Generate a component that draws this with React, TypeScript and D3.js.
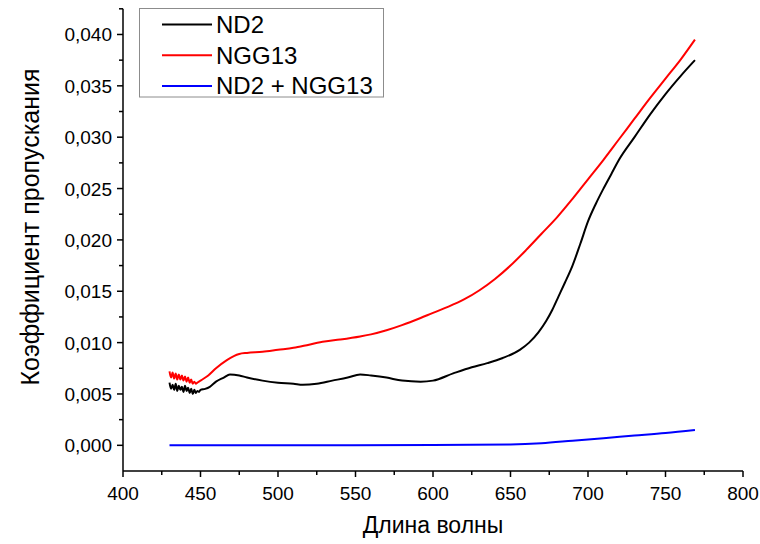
import React from "react";
import * as d3 from "d3";

const ND2_X = [430, 431, 432, 433, 434, 435, 436, 437, 438, 439, 440, 441, 442, 443, 444, 445, 446, 447, 448, 449, 450, 453, 456, 460, 465, 469, 475, 480, 490, 500, 510, 516, 525, 535, 545, 553, 560, 570, 580, 592, 600, 613, 625, 635, 645, 656, 662, 668, 673, 677, 681, 685, 690, 695, 700, 705, 710, 715, 720, 730, 740, 750, 760, 769];
const ND2_Y = [0.0061, 0.0055, 0.0059, 0.0054, 0.0060, 0.0053, 0.0058, 0.0054, 0.0057, 0.0052, 0.0058, 0.0053, 0.0056, 0.0051, 0.0055, 0.0050, 0.0054, 0.0051, 0.0053, 0.0052, 0.0054, 0.0055, 0.0057, 0.0062, 0.0066, 0.0069, 0.0068, 0.0066, 0.0063, 0.0061, 0.0060, 0.0059, 0.0060, 0.0063, 0.0066, 0.0069, 0.0068, 0.0066, 0.0063, 0.0062, 0.0063, 0.0070, 0.0076, 0.0080, 0.0085, 0.0093, 0.0100, 0.0110, 0.0121, 0.0132, 0.0145, 0.0158, 0.0175, 0.0196, 0.0218, 0.0235, 0.0250, 0.0264, 0.0278, 0.0300, 0.0322, 0.0342, 0.0360, 0.0375];

const NGG_X = [430, 431, 432, 433, 434, 435, 436, 437, 438, 439, 440, 441, 442, 443, 444, 445, 446, 447, 448, 449, 450, 455, 460, 467, 475, 480, 490, 500, 510, 520, 530, 540, 553, 560, 570, 580, 592, 600, 610, 620, 630, 640, 650, 660, 670, 680, 690, 700, 710, 720, 730, 740, 750, 760, 769];
const NGG_Y = [0.0072, 0.0066, 0.0071, 0.0065, 0.0070, 0.0064, 0.0069, 0.0064, 0.0068, 0.0063, 0.0067, 0.0062, 0.0066, 0.0061, 0.0064, 0.0060, 0.0062, 0.0060, 0.0061, 0.0062, 0.0063, 0.0068, 0.0075, 0.0083, 0.0089, 0.0090, 0.0091, 0.0093, 0.0095, 0.0098, 0.0101, 0.0103, 0.0106, 0.0108, 0.0112, 0.0117, 0.0124, 0.0129, 0.0135, 0.0142, 0.0151, 0.0162, 0.0175, 0.0190, 0.0206, 0.0222, 0.0240, 0.0259, 0.0278, 0.0298, 0.0318, 0.0338, 0.0357, 0.0376, 0.0395];

const MIX_X = [430, 500, 600, 650, 670, 690, 710, 730, 750, 769];
const MIX_Y = [0, 0.00001, 0.00003, 0.00008, 0.0002, 0.00045, 0.0007, 0.00095, 0.0012, 0.0015];

const X_TICKS = [400, 450, 500, 550, 600, 650, 700, 750, 800];
const Y_TICKS = [0, 0.005, 0.01, 0.015, 0.02, 0.025, 0.03, 0.035, 0.04];

const SERIES = [
  { name: "ND2", xs: ND2_X, ys: ND2_Y, color: "#000000" },
  { name: "NGG13", xs: NGG_X, ys: NGG_Y, color: "#ff0000" },
  { name: "ND2 + NGG13", xs: MIX_X, ys: MIX_Y, color: "#0000ff" },
];

const FONT = "'Liberation Sans', Arial, sans-serif";

export default function App() {
  const x = d3.scaleLinear().domain([400, 800]).range([123, 743]);
  const y = d3.scaleLinear().domain([-0.0025, 0.0425]).range([471, 8.8]);
  const line = d3
    .line<[number, number]>()
    .x((d) => x(d[0]))
    .y((d) => y(d[1]))
    .curve(d3.curveMonotoneX);

  const xMinor = d3.range(425, 800, 50);
  const yMinor = d3.range(0.0025, 0.043, 0.005);
  const fmt = (v: number) => v.toFixed(3).replace(".", ",");

  return (
    <svg
      width={760}
      height={544}
      style={{ position: "absolute", left: 0, top: 0, background: "#fff" }}
      fontFamily={FONT}
    >
      <rect width={760} height={544} fill="#fff" />
      {SERIES.map((s) => (
        <path
          key={s.name}
          d={line(s.xs.map((v, i) => [v, s.ys[i]] as [number, number])) || ""}
          fill="none"
          stroke={s.color}
          strokeWidth={2}
          strokeLinejoin="round"
        />
      ))}
      {/* axes */}
      <line x1={x(400)} x2={x(800)} y1={471} y2={471} stroke="#000" strokeWidth={1.5} />
      <line x1={123} x2={123} y1={y(-0.0025)} y2={y(0.0425)} stroke="#000" strokeWidth={1.5} />
      {X_TICKS.map((t) => (
        <g key={"xt" + t}>
          <line x1={x(t)} x2={x(t)} y1={471} y2={477} stroke="#000" strokeWidth={1.5} />
          <text x={x(t)} y={500} textAnchor="middle" fontSize={19}>
            {t}
          </text>
        </g>
      ))}
      {xMinor.map((t) => (
        <line key={"xm" + t} x1={x(t)} x2={x(t)} y1={471} y2={475} stroke="#000" strokeWidth={1.5} />
      ))}
      {Y_TICKS.map((t) => (
        <g key={"yt" + t}>
          <line x1={117} x2={123} y1={y(t)} y2={y(t)} stroke="#000" strokeWidth={1.5} />
          <text x={112} y={y(t) + 7} textAnchor="end" fontSize={19}>
            {fmt(t)}
          </text>
        </g>
      ))}
      {yMinor.map((t) => (
        <line key={"ym" + t} x1={119} x2={123} y1={y(t)} y2={y(t)} stroke="#000" strokeWidth={1.5} />
      ))}
      <text x={433} y={533} textAnchor="middle" fontSize={23}>
        Длина волны
      </text>
      <text
        transform={`translate(39, 227) rotate(-90)`}
        textAnchor="middle"
        fontSize={25}
      >
        Коэффициент пропускания
      </text>
      {/* legend */}
      <rect x={139.5} y={8.5} width={244} height={88.5} fill="#fff" stroke="#8c8c8c" strokeWidth={1} />
      {SERIES.map((s, i) => (
        <g key={"lg" + s.name}>
          <line x1={162} x2={212} y1={24.5 + i * 30.7} y2={24.5 + i * 30.7} stroke={s.color} strokeWidth={2} />
          <text x={216} y={24.5 + i * 30.7 + 8.5} fontSize={24}>
            {s.name}
          </text>
        </g>
      ))}
    </svg>
  );
}
